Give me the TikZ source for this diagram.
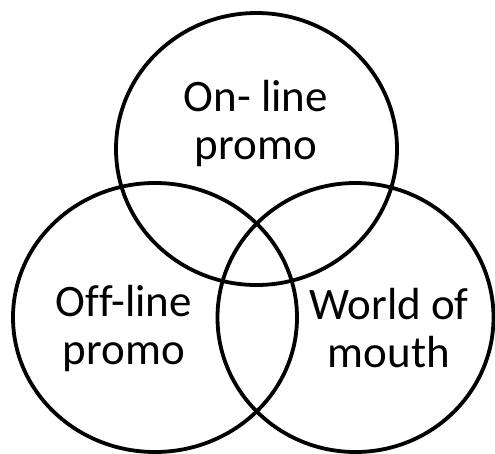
\documentclass[tikz,border=0pt]{standalone}
\usepackage{fontspec}
\setmainfont{Carlito}[Ligatures=CommonOff]
\begin{document}
\begin{tikzpicture}[x=1pt,y=-1pt,
  setring/.style={draw=black,line width=3.8pt},
  setlabel/.style={align=center,font=\fontsize{45}{48}\selectfont,inner sep=0pt}]
\useasboundingbox (0,0) rectangle (495,453);
\draw[setring] (256.5,149) ellipse [x radius=140.5, y radius=136];
\draw[setring] (155,317.5) ellipse [x radius=142, y radius=134.5];
\draw[setring] (355.5,317.5) ellipse [x radius=138, y radius=134.5];
\node[setlabel] (online) at (256,123.5) {On- line\\promo};
\node[setlabel] (offline) at (124,328) {Off-line\\promo};
\node[setlabel] (wom) at (389,328) {World of\\mouth};
\end{tikzpicture}
\end{document}
